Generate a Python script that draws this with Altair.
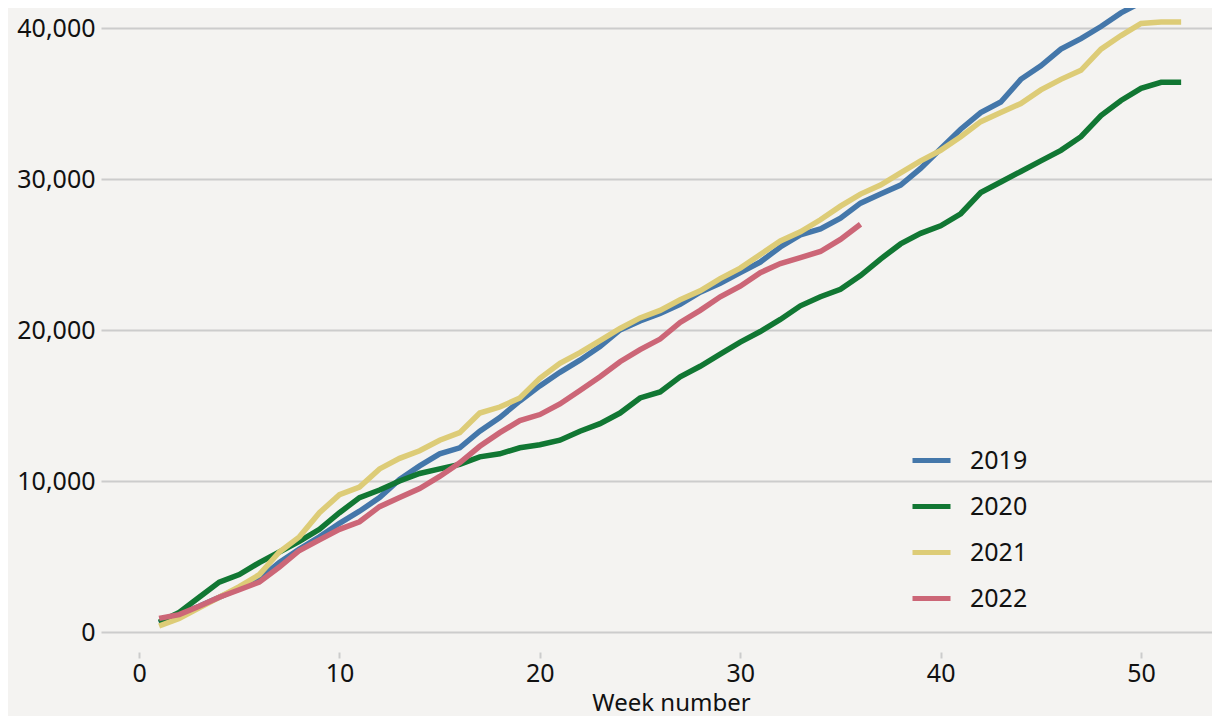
import altair as alt
import pandas as pd

years = ["2019", "2020", "2021", "2022"]
colors = ["#4477AA", "#117733", "#DDCC77", "#CC6677"]

weeks = list(range(1, 53))
weeks_2022 = list(range(1, 37))

y2019 = [600, 1150, 1700, 2300, 2900, 3500, 4600, 5500, 6300, 7200,
         8000, 8900, 10100, 11000, 11800, 12200, 13300, 14200, 15300, 16300,
         17200, 18000, 18900, 20000, 20600, 21100, 21700, 22500, 23100, 23800,
         24500, 25500, 26300, 26700, 27400, 28400, 29000, 29600, 30700, 32000,
         33300, 34400, 35100, 36600, 37500, 38600, 39300, 40100, 41000, 41700,
         41700, 41750]
y2020 = [650, 1300, 2300, 3300, 3800, 4600, 5300, 6000, 6800, 7900,
         8900, 9400, 10000, 10500, 10800, 11100, 11600, 11800, 12200, 12400,
         12700, 13300, 13800, 14500, 15500, 15900, 16900, 17600, 18400, 19200,
         19900, 20700, 21600, 22200, 22700, 23600, 24700, 25700, 26400, 26900,
         27700, 29100, 29800, 30500, 31200, 31900, 32800, 34200, 35200, 36000,
         36400, 36400]
y2021 = [400, 900, 1600, 2300, 3000, 3800, 5300, 6300, 7900, 9100,
         9600, 10800, 11500, 12000, 12700, 13200, 14500, 14900, 15500, 16800,
         17800, 18500, 19300, 20100, 20800, 21300, 22000, 22600, 23400, 24100,
         25000, 25900, 26500, 27300, 28200, 29000, 29600, 30400, 31200, 31900,
         32800, 33800, 34400, 35000, 35900, 36600, 37200, 38600, 39500, 40300,
         40400, 40400]
y2022 = [900, 1150, 1700, 2300, 2800, 3300, 4300, 5400, 6100, 6800,
         7300, 8300, 8900, 9500, 10300, 11200, 12300, 13200, 14000, 14400,
         15100, 16000, 16900, 17900, 18700, 19400, 20500, 21300, 22200, 22900,
         23800, 24400, 24800, 25200, 26000, 27000]

x_ticks = [0, 10, 20, 30, 40, 50]
y_ticks = [0, 10000, 20000, 30000, 40000]

rows = []
for yr, wk, vals in [("2019", weeks, y2019), ("2020", weeks, y2020),
                     ("2021", weeks, y2021), ("2022", weeks_2022, y2022)]:
    for w, v in zip(wk, vals):
        rows.append({"year": yr, "week": w, "value": v})
df = pd.DataFrame(rows)

FONT = "Noto Sans"
GRID = "#cccccc"

chart = alt.Chart(df).mark_line(strokeWidth=5.5).encode(
    x=alt.X("week:Q",
            scale=alt.Scale(domain=[-1.9, 53.54], nice=False, zero=False),
            axis=alt.Axis(values=x_ticks, title="Week number", grid=False,
                          domain=False, ticks=True, tickSize=6, tickColor=GRID,
                          tickWidth=2, offset=20, labelPadding=3, titlePadding=5,
                          titleX=570, format="d")),
    y=alt.Y("value:Q",
            scale=alt.Scale(domain=[0, 41325], nice=False),
            axis=alt.Axis(values=y_ticks, format=",d", title=None, domain=False,
                          ticks=False, tickSize=0, labelPadding=6,
                          gridColor=GRID, gridWidth=2)),
    color=alt.Color("year:N",
                    scale=alt.Scale(domain=years, range=colors),
                    legend=alt.Legend(title=None, orient="none", legendX=809,
                                      legendY=431, symbolType="stroke",
                                      symbolSize=1444, symbolStrokeWidth=5,
                                      labelOffset=17, rowPadding=11, padding=0,
                                      labelFontSize=25, labelFont=FONT,
                                      labelColor="#111111")),
).properties(
    width=1111, height=624,
    autosize=alt.AutoSizeParams(type="none"),
    padding={"left": 93, "top": 0, "right": 0, "bottom": 84},
    background="#f4f3f1",
).configure_view(stroke=None).configure_axis(
    labelFont=FONT, labelFontSize=25, labelColor="#111111",
    titleFont=FONT, titleFontSize=24, titleFontWeight="normal", titleColor="#111111",
)

chart.save("out.html", embed_options={"renderer": "svg", "actions": False})
